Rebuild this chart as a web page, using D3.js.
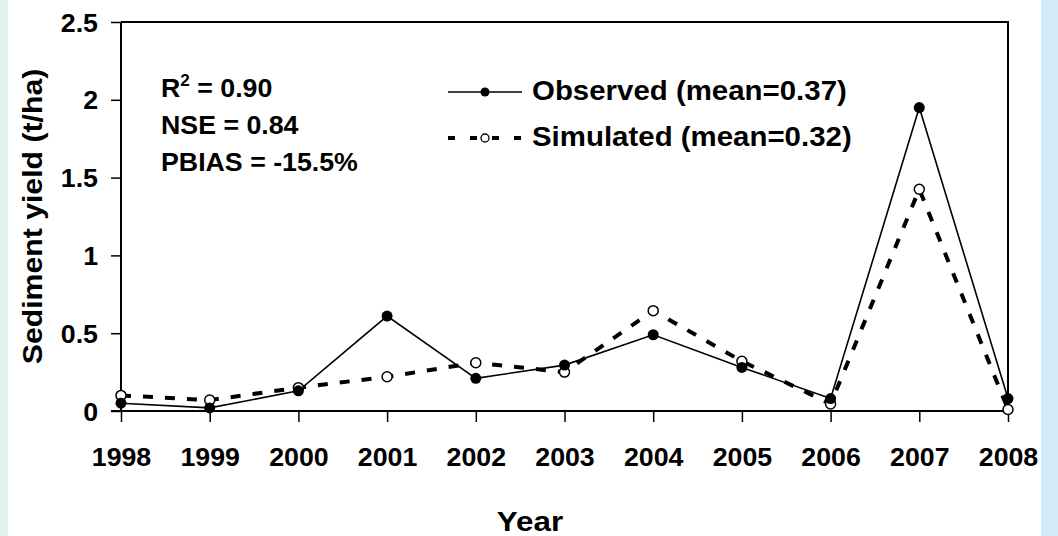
<!DOCTYPE html>
<html>
<head>
<meta charset="utf-8">
<script src="https://cdn.jsdelivr.net/npm/d3@7"></script>
<style>
  html, body { margin: 0; padding: 0; background: #ffffff; }
  svg { display: block; }
  text { font-family: "Liberation Sans", Arial, sans-serif; font-weight: bold; fill: #000; }
</style>
</head>
<body>
<svg id="chart" width="1058" height="536"></svg>
<script>
// Annual sediment yield, observed vs simulated
const years = [1998, 1999, 2000, 2001, 2002, 2003, 2004, 2005, 2006, 2007, 2008];
const observed = [0.05, 0.02, 0.13, 0.61, 0.21, 0.295, 0.49, 0.28, 0.08, 1.95, 0.08];
const simulated = [0.10, 0.07, 0.15, 0.22, 0.31, 0.25, 0.645, 0.32, 0.045, 1.425, 0.01];
const yTicks = [0, 0.5, 1, 1.5, 2, 2.5];
const yTickLabels = ["0", "0.5", "1", "1.5", "2", "2.5"];
const statLines = [
  { base: "R", sup: "2", rest: " = 0.90" },
  { base: "NSE = 0.84" },
  { base: "PBIAS = -15.5%" }
];
const legendItems = [
  { key: "obs", label: "Observed (mean=0.37)" },
  { key: "sim", label: "Simulated (mean=0.32)" }
];

const svg = d3.select("#chart");
const W = 1058, H = 536;
const plot = { left: 121, right: 1008, top: 22, bottom: 411 };

// page background with pale side strips
svg.append("rect").attr("x", 0).attr("y", 0).attr("width", W).attr("height", H).attr("fill", "#ffffff");
svg.append("rect").attr("x", 0).attr("y", 0).attr("width", 8).attr("height", H).attr("fill", "#e2f3f0");
svg.append("rect").attr("x", 1041).attr("y", 0).attr("width", W - 1041).attr("height", H).attr("fill", "#d3eaf8");

const x = d3.scaleLinear().domain([1998, 2008]).range([plot.left, plot.right]);
const y = d3.scaleLinear().domain([0, 2.5]).range([plot.bottom, plot.top]);

// wide bold lettering: place text at (px,py) and stretch it horizontally
function wideText(sel, px, py, sx, rot) {
  return sel.attr("x", 0).attr("y", 0)
    .attr("transform", `translate(${px},${py})${rot ? ` rotate(${rot})` : ""} scale(${sx},1)`);
}

// frame: top and right borders
svg.append("line").attr("x1", plot.left).attr("x2", plot.right + 1).attr("y1", plot.top).attr("y2", plot.top)
  .attr("stroke", "#000").attr("stroke-width", 2);
svg.append("line").attr("x1", plot.right).attr("x2", plot.right).attr("y1", plot.top).attr("y2", plot.bottom)
  .attr("stroke", "#000").attr("stroke-width", 2);

// y axis
const yAxis = d3.axisLeft(y).tickValues(yTicks).tickSize(10).tickPadding(13)
  .tickFormat((d, i) => yTickLabels[i]);
const gy = svg.append("g").attr("transform", `translate(${plot.left},0)`).call(yAxis);
gy.select(".domain").attr("stroke", "#000").attr("stroke-width", 2).attr("d", `M0,${plot.top}V${plot.bottom}`);
gy.selectAll(".tick line").attr("stroke", "#000").attr("stroke-width", 1.5);
gy.selectAll(".tick text").each(function () {
  const t = d3.select(this);
  t.attr("font-size", 25).attr("font-family", "Liberation Sans, Arial, sans-serif")
    .attr("font-weight", "bold").attr("fill", "#000").attr("dy", "0.36em");
  wideText(t, -23, 0, 1.07);
});

// x axis
const xAxis = d3.axisBottom(x).tickValues(years).tickSize(11).tickPadding(20).tickFormat(d3.format("d"));
const gx = svg.append("g").attr("transform", `translate(0,${plot.bottom})`).call(xAxis);
gx.select(".domain").attr("stroke", "#000").attr("stroke-width", 2).attr("d", `M${plot.left - 10},0H${plot.right + 1}`);
gx.selectAll(".tick line").attr("stroke", "#000").attr("stroke-width", 1.5);
gx.selectAll(".tick text").each(function () {
  const t = d3.select(this);
  t.attr("font-size", 25).attr("font-family", "Liberation Sans, Arial, sans-serif")
    .attr("font-weight", "bold").attr("fill", "#000").attr("dy", null);
  wideText(t, 0, 55, 1.07);
});

// axis titles
wideText(svg.append("text").attr("text-anchor", "middle").attr("font-size", 28).text("Year"),
  530, 531, 1.12);
wideText(svg.append("text").attr("text-anchor", "middle").attr("font-size", 28).text("Sediment yield (t/ha)"),
  42, (plot.top + plot.bottom) / 2, 1.08, -90);

// series lines
const lineGen = vals => d3.line().x((d, i) => x(years[i])).y(d => y(d))(vals);
svg.append("path").attr("d", lineGen(simulated)).attr("fill", "none")
  .attr("stroke", "#000").attr("stroke-width", 4).attr("stroke-dasharray", "10,12");
svg.append("path").attr("d", lineGen(observed)).attr("fill", "none")
  .attr("stroke", "#000").attr("stroke-width", 1.6);

// markers
svg.append("g").selectAll("circle").data(simulated).join("circle")
  .attr("cx", (d, i) => x(years[i])).attr("cy", d => y(d)).attr("r", 5)
  .attr("fill", "#fff").attr("stroke", "#000").attr("stroke-width", 1.5);
svg.append("g").selectAll("circle").data(observed).join("circle")
  .attr("cx", (d, i) => x(years[i])).attr("cy", d => y(d)).attr("r", 5.5)
  .attr("fill", "#000");

// fit statistics
const stats = svg.append("g");
statLines.forEach((s, i) => {
  const t = stats.append("text").attr("font-size", 25);
  wideText(t, 161, 97 + i * 37, 1.07);
  t.append("tspan").text(s.base);
  if (s.sup) {
    t.append("tspan").attr("font-size", 16).attr("dy", -11).text(s.sup);
    t.append("tspan").attr("dy", 11).text(s.rest);
  }
});

// legend
const legend = svg.append("g");
legendItems.forEach((item, i) => {
  const ly = 92 + i * 46;
  const g = legend.append("g");
  if (item.key === "obs") {
    g.append("line").attr("x1", 448).attr("x2", 522).attr("y1", ly).attr("y2", ly)
      .attr("stroke", "#000").attr("stroke-width", 1.6);
    g.append("circle").attr("cx", 485).attr("cy", ly).attr("r", 4.5).attr("fill", "#000");
  } else {
    g.append("line").attr("x1", 448).attr("x2", 522).attr("y1", ly).attr("y2", ly)
      .attr("stroke", "#000").attr("stroke-width", 4).attr("stroke-dasharray", "7,15");
    g.append("circle").attr("cx", 485).attr("cy", ly).attr("r", 4).attr("fill", "#fff")
      .attr("stroke", "#000").attr("stroke-width", 1.3);
  }
  wideText(g.append("text").attr("font-size", 27).text(item.label), 532, ly + 8, 1.09);
});
</script>
</body>
</html>
